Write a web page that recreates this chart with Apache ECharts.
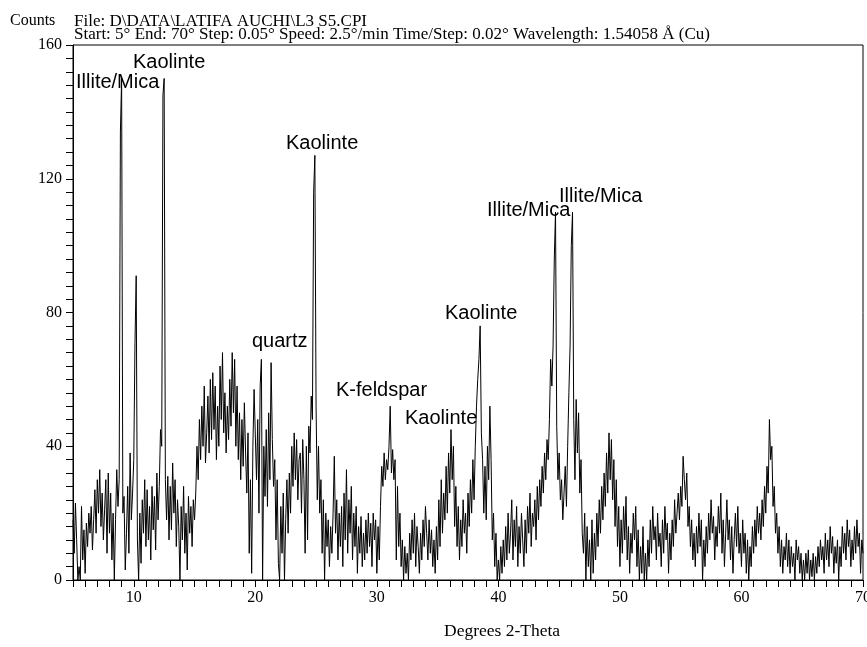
<!DOCTYPE html>
<html>
<head>
<meta charset="utf-8">
<script src="https://cdn.jsdelivr.net/npm/echarts@6/dist/echarts.min.js"></script>
<style>
html,body{margin:0;padding:0;background:#fff;}
#chart{width:867px;height:647px;}
</style>
</head>
<body>
<div id="chart"></div>
<script>
// Scan parameters (degrees 2-theta)
const scanStart = 5;
const scanStep = 0.1;

// Counts, one row per degree (5.0 ... 69.9), then 70.0
const counts = [
  18, 8, 23, 12, 0, 4, 0, 22, 6, 15,          // 5
  2, 17, 10, 20, 14, 22, 9, 18, 27, 14,       // 6
  30, 20, 33, 16, 26, 12, 21, 30, 8, 32,      // 7
  14, 26, 6, 20, 0, 18, 33, 22, 30, 134,      // 8
  150, 20, 25, 3, 14, 28, 8, 38, 18, 26,      // 9
  36, 71, 91, 12, 0, 20, 5, 24, 14, 30,       // 10
  10, 27, 12, 22, 6, 28, 15, 25, 9, 32,       // 11
  18, 28, 45, 40, 145, 150, 30, 18, 31, 12,   // 12
  28, 15, 35, 20, 30, 10, 24, 16, 0, 22,      // 13
  12, 28, 8, 20, 3, 25, 14, 22, 10, 24,       // 14
  18, 26, 40, 30, 48, 36, 52, 40, 58, 35,     // 15
  44, 55, 38, 60, 42, 62, 45, 58, 36, 52,     // 16
  40, 64, 48, 68, 44, 56, 38, 52, 42, 60,     // 17
  46, 68, 50, 66, 40, 58, 36, 50, 30, 48,     // 18
  34, 53, 38, 26, 44, 8, 30, 2, 40, 57,       // 19
  57, 30, 48, 20, 58, 66, 0, 40, 25, 45,      // 20
  22, 50, 30, 65, 42, 28, 36, 12, 30, 5,      // 21
  0, 22, 8, 26, 0, 18, 30, 14, 32, 20,        // 22
  40, 28, 44, 30, 42, 24, 36, 38, 20, 42,     // 23
  30, 8, 40, 12, 46, 38, 55, 48, 116, 127,    // 24
  52, 24, 40, 20, 30, 8, 24, 0, 20, 10,       // 25
  18, 4, 16, 8, 20, 37, 14, 24, 6, 20,        // 26
  10, 22, 4, 26, 12, 33, 8, 24, 14, 28,       // 27
  6, 20, 10, 22, 2, 16, 8, 19, 4, 14,         // 28
  6, 18, 8, 20, 10, 17, 4, 20, 12, 18,        // 29
  2, 16, 6, 22, 34, 28, 38, 30, 36, 33,       // 30
  40, 52, 32, 39, 30, 36, 6, 28, 10, 20,      // 31
  4, 12, 0, 10, 2, 8, 0, 14, 6, 18,           // 32
  8, 20, 4, 16, 10, 2, 14, 6, 18, 10,         // 33
  22, 14, 6, 18, 8, 15, 4, 12, 2, 16,         // 34
  6, 24, 10, 30, 14, 26, 18, 34, 20, 38,      // 35
  26, 45, 30, 40, 16, 28, 10, 22, 6, 18,      // 36
  10, 24, 14, 20, 8, 26, 16, 30, 20, 36,      // 37
  24, 40, 52, 60, 66, 76, 44, 36, 20, 34,     // 38
  18, 40, 30, 52, 36, 12, 20, 4, 14, 0,       // 39
  6, 0, 10, 2, 12, 4, 16, 6, 20, 8,           // 40
  14, 24, 6, 18, 10, 22, 4, 16, 8, 20,        // 41
  12, 4, 18, 8, 22, 14, 26, 10, 20, 16,       // 42
  24, 12, 28, 18, 30, 22, 34, 26, 38, 30,     // 43
  42, 36, 48, 66, 58, 70, 96, 110, 46, 30,    // 44
  38, 24, 30, 18, 26, 34, 22, 40, 56, 70,     // 45
  100, 110, 48, 30, 54, 38, 50, 26, 36, 14,   // 46
  8, 20, 0, 16, 4, 12, 0, 18, 2, 14,          // 47
  6, 20, 10, 24, 14, 28, 18, 32, 22, 38,      // 48
  26, 44, 30, 42, 24, 36, 16, 30, 10, 22,     // 49
  4, 18, 8, 22, 12, 25, 6, 16, 2, 14,         // 50
  8, 20, 12, 22, 4, 15, 0, 10, 2, 16,         // 51
  0, 8, 0, 12, 4, 18, 8, 22, 12, 16,          // 52
  6, 20, 10, 14, 4, 18, 8, 22, 12, 17,        // 53
  2, 14, 6, 18, 10, 24, 14, 20, 26, 18,       // 54
  28, 22, 37, 30, 24, 32, 16, 22, 10, 18,     // 55
  6, 14, 4, 16, 8, 20, 10, 18, 0, 12,         // 56
  4, 16, 8, 20, 12, 24, 14, 19, 6, 16,        // 57
  10, 22, 14, 26, 8, 18, 4, 14, 24, 12,       // 58
  18, 6, 16, 2, 12, 20, 10, 22, 8, 14,        // 59
  4, 18, 8, 14, 2, 12, 0, 10, 4, 16,          // 60
  8, 18, 10, 22, 14, 20, 12, 24, 16, 28,      // 61
  20, 34, 26, 48, 36, 40, 22, 28, 14, 20,     // 62
  8, 16, 4, 12, 2, 10, 6, 14, 4, 12,          // 63
  2, 10, 4, 8, 0, 12, 6, 10, 2, 8,            // 64
  0, 6, 0, 8, 2, 9, 0, 6, 1, 8,               // 65
  0, 7, 2, 10, 4, 12, 6, 10, 2, 14,           // 66
  6, 12, 4, 16, 8, 13, 2, 10, 5, 12,          // 67
  0, 10, 4, 16, 8, 14, 6, 18, 10, 15,         // 68
  4, 12, 6, 16, 8, 18, 10, 14, 2, 12,         // 69
  8                                           // 70
];

const xTickLabels = [10, 20, 30, 40, 50, 60, 70];
const yTickLabels = [0, 40, 80, 120, 160];

// Peak annotations
const peakNames = ['Illite/Mica', 'Kaolinte', 'Kaolinte', 'quartz', 'K-feldspar', 'Kaolinte', 'Kaolinte', 'Illite/Mica', 'Illite/Mica'];

const seriesData = counts.map((c, i) => [+(scanStart + i * scanStep).toFixed(2), c]);

const chart = echarts.init(document.getElementById('chart'), null, {renderer: 'canvas'});

const serif = '"Liberation Serif", "Times New Roman", serif';
const sans = '"Liberation Sans", Arial, sans-serif';

// pixel placement of annotation texts (left, middle)
const annoPos = [[76, 82], [133, 62], [286, 143], [252, 341], [336, 390], [405, 418], [445, 313], [487, 210], [559, 196]];

const graphics = [
  {type: 'text', left: 10, top: 13, style: {text: 'Counts', font: '16px ' + serif, fill: '#000'}},
  {type: 'text', left: 74, top: 13, style: {text: 'File: D\\DATA\\LATIFA AUCHI\\L3 S5.CPI', font: '17px ' + serif, fill: '#000'}},
  {type: 'text', left: 74, top: 26, style: {text: 'Start: 5\u00b0 End: 70\u00b0 Step: 0.05\u00b0 Speed: 2.5\u00b0/min Time/Step: 0.02\u00b0 Wavelength: 1.54058 \u00c5 (Cu)', font: '17px ' + serif, fill: '#000'}},
  {type: 'text', left: 444, top: 622, style: {text: 'Degrees 2-Theta', font: '17.5px ' + serif, fill: '#000'}}
];
peakNames.forEach((n, i) => {
  graphics.push({type: 'text', x: annoPos[i][0], y: annoPos[i][1], style: {text: n, font: '20px ' + sans, fill: '#000', textVerticalAlign: 'middle', textAlign: 'left'}});
});

chart.setOption({
  animation: false,
  backgroundColor: '#fff',
  grid: {left: 73, right: 4, top: 45, bottom: 67, containLabel: false, outerBoundsMode: 'none', show: true, borderColor: '#000', borderWidth: 1, backgroundColor: 'transparent'},
  xAxis: {
    type: 'value', min: 5, max: 70, interval: 1,
    axisLine: {show: true, lineStyle: {color: '#000', width: 1}},
    axisTick: {show: true, length: 7, lineStyle: {color: '#000'}},
    splitLine: {show: false},
    axisLabel: {
      margin: 10, color: '#000', fontFamily: serif, fontSize: 16, hideOverlap: false,
      formatter: v => xTickLabels.indexOf(Math.round(v)) >= 0 && Math.abs(v - Math.round(v)) < 1e-6 ? String(Math.round(v)) : ''
    }
  },
  yAxis: {
    type: 'value', min: 0, max: 160, interval: 4,
    axisLine: {show: true, lineStyle: {color: '#000', width: 1}},
    axisTick: {show: true, length: 7, lineStyle: {color: '#000'}},
    splitLine: {show: false},
    axisLabel: {
      margin: 11, color: '#000', fontFamily: serif, fontSize: 16,
      formatter: v => yTickLabels.indexOf(Math.round(v)) >= 0 ? String(Math.round(v)) : ''
    }
  },
  series: [{
    type: 'line', data: seriesData, showSymbol: false, symbol: 'none',
    lineStyle: {color: '#000', width: 1}, sampling: null, clip: true
  }],
  graphic: graphics
});
</script>
</body>
</html>
